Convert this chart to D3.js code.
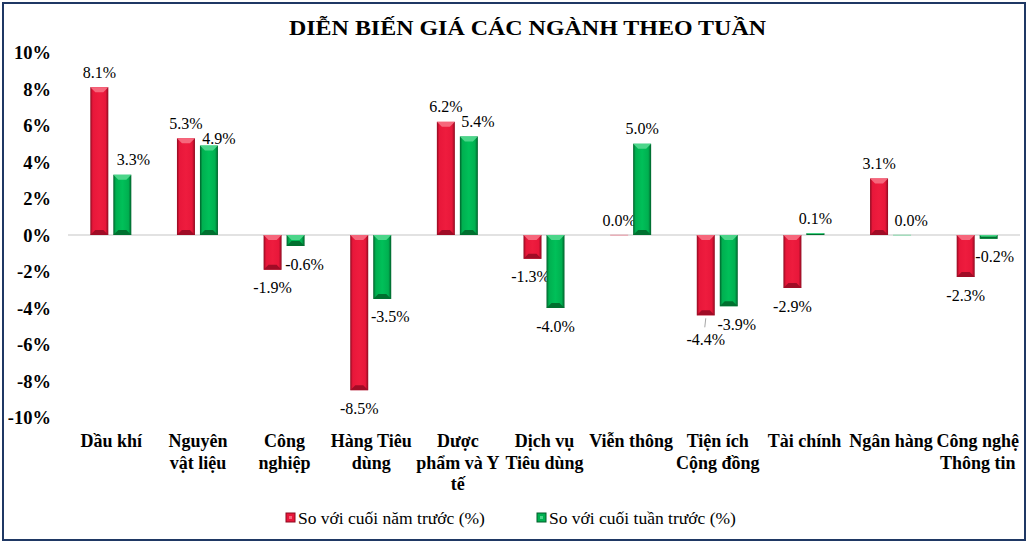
<!DOCTYPE html>
<html>
<head>
<meta charset="utf-8">
<script src="https://cdn.jsdelivr.net/npm/d3@7"></script>
<style>
  html, body { margin: 0; padding: 0; background: #fff; }
  svg { display: block; }
</style>
</head>
<body>
<svg id="chart" width="1031" height="545"></svg>
<script>
// ---- Data ----
const categories = ["Dầu khí", "Nguyên vật liệu", "Công nghiệp", "Hàng Tiêu dùng", "Dược phẩm và Y tế",
  "Dịch vụ Tiêu dùng", "Viễn thông", "Tiện ích Cộng đồng", "Tài chính", "Ngân hàng", "Công nghệ Thông tin"];
const categoryLines = [["Dầu khí"], ["Nguyên", "vật liệu"], ["Công", "nghiệp"], ["Hàng Tiêu", "dùng"],
  ["Dược", "phẩm và Y", "tế"], ["Dịch vụ", "Tiêu dùng"], ["Viễn thông"], ["Tiện ích", "Cộng đồng"],
  ["Tài chính"], ["Ngân hàng"], ["Công nghệ", "Thông tin"]];
const seriesNames = ["So với cuối năm trước (%)", "So với cuối tuần trước (%)"];
const vsYearEnd = [8.1, 5.3, -1.9, -8.5, 6.2, -1.3, 0.0, -4.4, -2.9, 3.1, -2.3];
const vsLastWeek = [3.3, 4.9, -0.6, -3.5, 5.4, -4.0, 5.0, -3.9, 0.1, 0.0, -0.2];
const yTicks = [-10, -8, -6, -4, -2, 0, 2, 4, 6, 8, 10];
const title = "DIỄN BIẾN GIÁ CÁC NGÀNH THEO TUẦN";

// ---- Layout / style (not data) ----
const labelDx = [[0,0,0,0,0,-2,0,0,0,0,0],[11,10,9,8,9,0,0,8,0,9,6]];
const labelDy = [[0,0,0,0,0,0,0,6,0,0,0],[0,8,0,0,0,0,0,0,0,0,0]];
const palettes = [
  {edge: "#8e0a20", mid: "#ee1c3e", main: "#e8173a", top: "#f6677c", bottom: "#a00c26"},
  {edge: "#005f2a", mid: "#00c059", main: "#00b050", top: "#4cd68a", bottom: "#00702f"}
];

const svg = d3.select("#chart");
const serif = "'Liberation Serif', 'Times New Roman', serif";
const fmt = v => v.toFixed(1) + "%";

// frame
svg.append("rect").attr("x", 3).attr("y", 3).attr("width", 1022).attr("height", 537)
  .attr("fill", "#fff").attr("stroke", "#1f3864").attr("stroke-width", 2);

// defs gradients
const defs = svg.append("defs");
palettes.forEach((p, i) => {
  const g = defs.append("linearGradient").attr("id", "grad" + i)
    .attr("x1", "0%").attr("x2", "100%").attr("y1", "0%").attr("y2", "0%");
  [[0, p.edge], [0.14, p.main], [0.5, p.mid], [0.84, p.main], [1, p.edge]].forEach(([o, c]) =>
    g.append("stop").attr("offset", o).attr("stop-color", c));
});

// title
svg.append("text").attr("x", 527.5).attr("y", 35).attr("text-anchor", "middle")
  .attr("font-family", serif).attr("font-weight", "bold").attr("font-size", 22)
  .attr("textLength", 477).attr("lengthAdjust", "spacingAndGlyphs")
  .attr("fill", "#000").text(title);

// scales
const x0 = d3.scaleBand().domain(categories).range([68, 1021]).padding(0);
const x1 = d3.scaleBand().domain([0, 1]).range([-21, 20]).paddingInner(0.217);
const y = d3.scaleLinear().domain([-10, 10]).range([417.5, 52.5]);

// y axis labels
const yAxis = d3.axisLeft(y).tickValues(yTicks).tickSize(0).tickPadding(0)
  .tickFormat(d => d + "%");
const yg = svg.append("g").attr("transform", "translate(51,0)").call(yAxis);
yg.attr("font-family", serif);
yg.select(".domain").remove();
yg.selectAll("text").attr("font-family", serif).attr("font-weight", "bold")
  .attr("font-size", 18.5).attr("fill", "#000").attr("dy", "0.35em");

// zero line
svg.append("line").attr("x1", 68).attr("x2", 1020).attr("y1", y(0)).attr("y2", y(0))
  .attr("stroke", "#d9d9d9").attr("stroke-width", 1.5);

// x labels
const xg = svg.append("g");
categories.forEach((c, i) => {
  const cx = x0(c) + x0.bandwidth() / 2;
  const t = xg.append("text").attr("x", cx).attr("y", 447)
    .attr("text-anchor", "middle").attr("font-family", serif).attr("font-weight", "bold")
    .attr("font-size", 18).attr("fill", "#000");
  categoryLines[i].forEach((ln, j) => {
    t.append("tspan").attr("x", cx).attr("dy", j === 0 ? 0 : 21.5).text(ln);
  });
});

// bars
const series = [vsYearEnd, vsLastWeek];
series.forEach((vals, s) => {
  const p = palettes[s];
  const g = svg.append("g");
  vals.forEach((v, i) => {
    const cx = x0(categories[i]) + x0.bandwidth() / 2;
    const bx = cx + x1(s), bw = x1.bandwidth();
    const y0 = Math.min(y(v), y(0)), y1 = Math.max(y(v), y(0));
    const h = y1 - y0;
    if (h >= 0.5) {
      g.append("rect").attr("x", bx).attr("y", y0).attr("width", bw).attr("height", h)
        .attr("fill", `url(#grad${s})`);
      const b = Math.min(5, h / 2);
      g.append("path").attr("d", `M${bx},${y0}L${bx + bw},${y0}L${bx + bw - b},${y0 + b}L${bx + b},${y0 + b}Z`)
        .attr("fill", p.top);
      g.append("path").attr("d", `M${bx},${y1}L${bx + bw},${y1}L${bx + bw - b},${y1 - b}L${bx + b},${y1 - b}Z`)
        .attr("fill", p.bottom);
    } else {
      g.append("rect").attr("x", bx).attr("y", y(0) - 0.5).attr("width", bw).attr("height", 1.5)
        .attr("fill", p.top).attr("opacity", 0.4);
    }
    // label
    const ly = v >= 0 ? y(v) - 15 : y(v) + 18;
    g.append("text").attr("x", cx + x1(s) + bw / 2 + labelDx[s][i])
      .attr("y", ly + labelDy[s][i]).attr("dy", "0.35em").attr("text-anchor", "middle")
      .attr("font-family", serif).attr("font-size", 16).attr("fill", "#000")
      .text(fmt(v));
    if (labelDy[s][i] > 3 && v < 0) {
      g.append("line").attr("x1", cx + x1(s) + bw / 2).attr("x2", cx + x1(s) + bw / 2 - 1)
        .attr("y1", y(v) + 3).attr("y2", y(v) + 12).attr("stroke", "#a6a6a6").attr("stroke-width", 1);
    }
  });
});

// legend
const legendX = [286, 537];
seriesNames.forEach((n, s) => {
  const p = palettes[s];
  svg.append("rect").attr("x", legendX[s]).attr("y", 513).attr("width", 9).attr("height", 9)
    .attr("fill", p.main).attr("stroke", p.edge).attr("stroke-width", 1);
  svg.append("rect").attr("x", legendX[s] + 3).attr("y", 516).attr("width", 3).attr("height", 3)
    .attr("fill", p.top);
  svg.append("text").attr("x", legendX[s] + 12).attr("y", 524).attr("font-family", serif)
    .attr("font-size", 17.5).attr("fill", "#000").text(n);
});
</script>
</body>
</html>
